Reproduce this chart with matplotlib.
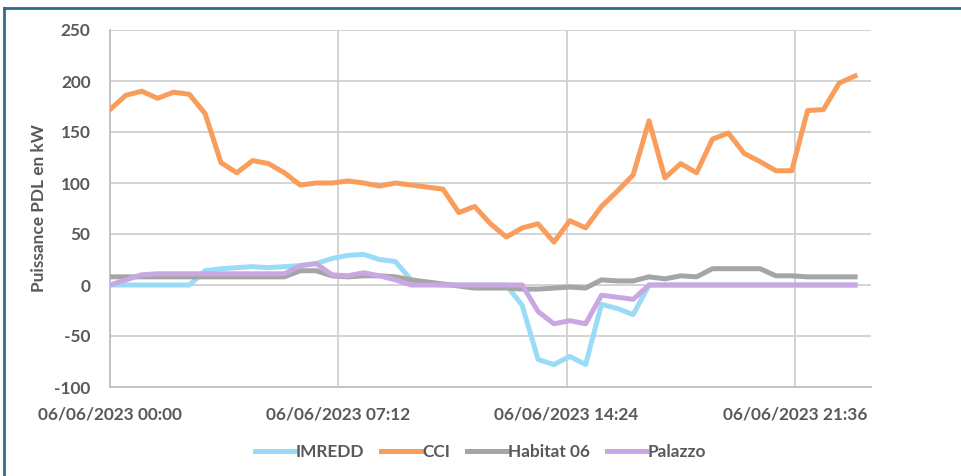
import numpy as np
import matplotlib.pyplot as plt
from matplotlib.lines import Line2D

# half-hourly readings, 06/06/2023 00:00 -> 23:30
hours = np.arange(48) * 0.5

imredd = [0, 0, 0, 0, 0, 0, 14, 16, 17, 18, 17, 18, 19, 21, 26, 29,
          30, 25, 23, 5, 1, 0, 0, 0, 0, 0, -20, -73, -78, -70, -78, -19,
          -23, -29, 0, 0, 0, 0, 0, 0, 0, 0, 0, 0, 0, 0, 0, 0]
cci = [172, 186, 190, 183, 189, 187, 168, 120, 110, 122, 119, 110, 98, 100, 100, 102,
       100, 97, 100, 98, 96, 94, 71, 77, 60, 47, 56, 60, 42, 63, 56, 77,
       92, 108, 161, 105, 119, 110, 143, 149, 129, 121, 112, 112, 171, 172, 198, 205]
habitat = [8, 8, 8, 8, 8, 8, 8, 8, 8, 8, 8, 8, 14, 14, 9, 8,
           9, 9, 8, 5, 3, 1, -1, -3, -3, -3, -4, -4, -3, -2, -3, 5,
           4, 4, 8, 6, 9, 8, 16, 16, 16, 16, 9, 9, 8, 8, 8, 8]
palazzo = [0, 5, 10, 11, 11, 11, 11, 11, 11, 11, 11, 11, 19, 21, 10, 9,
           12, 9, 5, 0, 0, 0, 0, 0, 0, 0, 0, -26, -38, -35, -38, -10,
           -12, -14, 0, 0, 0, 0, 0, 0, 0, 0, 0, 0, 0, 0, 0, 0]

names = ["IMREDD", "CCI", "Habitat 06", "Palazzo"]
colors = ["#9ADCF8", "#F99D5C", "#A5A5A5", "#C9A8E2"]

xticks = [0, 7.2, 14.4, 21.6]
xlabels = ["06/06/2023 00:00", "06/06/2023 07:12", "06/06/2023 14:24", "06/06/2023 21:36"]

plt.rcParams['font.family'] = ['Lato', 'DejaVu Sans']
plt.rcParams['axes.unicode_minus'] = False
txt = "#595959"
fs = 12.4

fig = plt.figure(figsize=(9.61, 4.76), dpi=100)
ax = fig.add_axes([110/961, 89/476, 761/961, 357/476])

for i, (s, c) in enumerate(zip([imredd, cci, habitat, palazzo], colors)):
    ax.plot(hours, s, color=c, lw=3.6, solid_joinstyle='round', zorder=3 + i)

ax.set_xlim(0, 24)
ax.set_ylim(-100, 250)
ax.set_yticks(range(-100, 251, 50))
ax.set_xticks(xticks)
ax.set_xticklabels(xlabels)
ax.grid(True, color="#D0D0D0", lw=1.3)
ax.set_axisbelow(True)
for sp in ["top", "right"]:
    ax.spines[sp].set_visible(False)
for sp in ["left", "bottom"]:
    ax.spines[sp].set_color("#BFBFBF")
    ax.spines[sp].set_linewidth(1.3)
ax.tick_params(axis='y', length=0, labelsize=fs, labelcolor=txt, pad=14)
ax.tick_params(axis='x', length=0, labelsize=fs, labelcolor=txt, pad=14)
for lab in ax.get_xticklabels() + ax.get_yticklabels():
    lab.set_fontweight('bold')
ax.set_ylabel("Puissance PDL en kW", fontsize=fs, color=txt, fontweight='bold', labelpad=5)

handles = [Line2D([], [], color=c, lw=3.6) for c in colors]
fig.legend(handles, names, loc="center", bbox_to_anchor=(0.5, 24/476), ncol=4, frameon=False,
           handlelength=2.3, handletextpad=0.05, columnspacing=1.0,
           prop={'size': fs, 'weight': 'bold'}, labelcolor=txt)

# outer chart border (top and left edges visible)
fig.add_artist(Line2D([4/961, 4/961], [0, 1 - 8/476], color="#2E6B8C", lw=2, transform=fig.transFigure))
fig.add_artist(Line2D([4/961, 1], [1 - 8/476, 1 - 8/476], color="#2E6B8C", lw=2, transform=fig.transFigure))

fig.savefig("out.png", dpi=100)
